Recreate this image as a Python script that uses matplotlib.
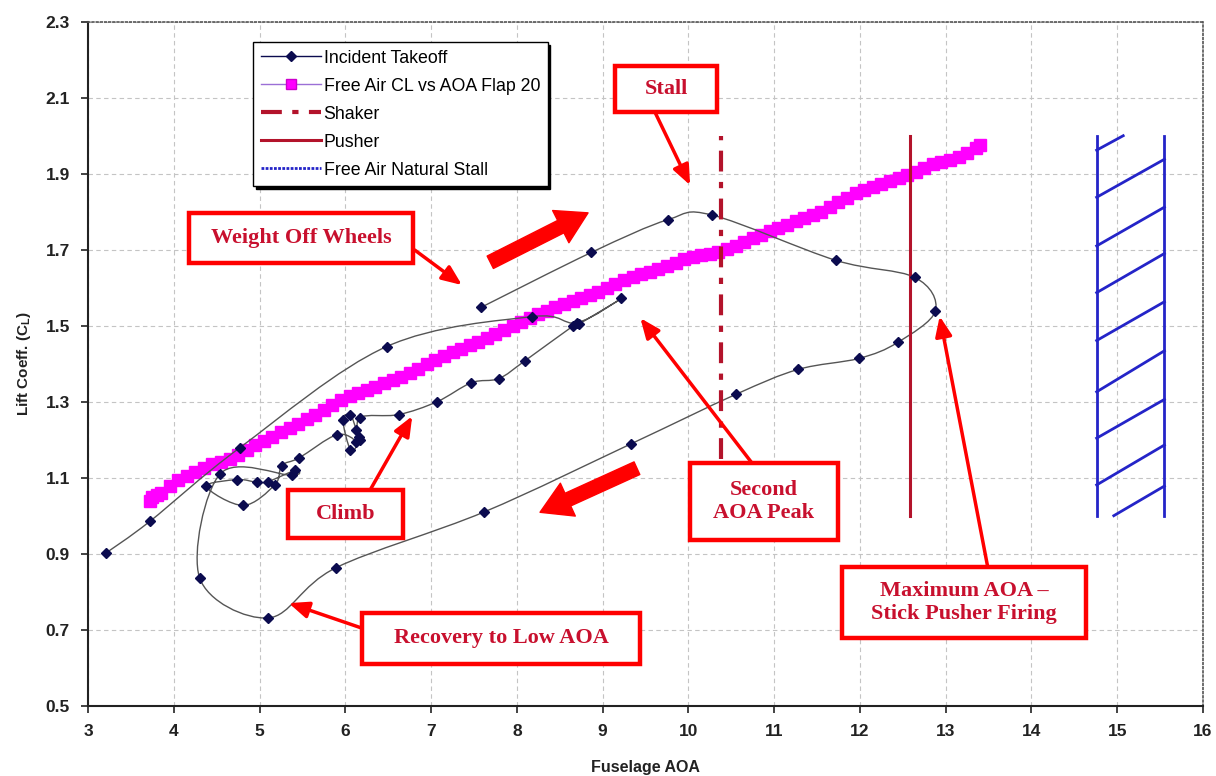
import numpy as np
import matplotlib
matplotlib.use("Agg")
import matplotlib.pyplot as plt
from matplotlib.path import Path
from matplotlib.patches import PathPatch, Rectangle
from matplotlib.lines import Line2D
import matplotlib.patheffects as pe

plt.rcParams['font.family'] = ['Liberation Sans', 'DejaVu Sans']

# Incident takeoff (CL vs fuselage AOA), in time order
takeoff_aoa = [7.58, 8.87, 9.76, 10.28, 11.72, 12.64, 12.88, 12.44, 11.99, 11.28,
               10.55, 9.33, 7.62, 5.89, 5.10, 4.30, 4.54, 5.38, 5.41, 5.10, 4.97,
               4.74, 4.38, 4.81, 5.18, 5.26, 5.46, 5.90, 6.13, 6.06, 5.97,
               6.06, 6.13, 6.16, 6.17, 6.17, 6.62, 7.07, 7.47, 7.79, 8.09,
               8.66, 8.72, 9.22, 8.70, 8.18, 6.48, 4.77, 3.72, 3.21]
takeoff_cl = [1.548, 1.693, 1.779, 1.791, 1.672, 1.627, 1.539, 1.456, 1.414, 1.385,
              1.319, 1.189, 1.010, 0.863, 0.731, 0.837, 1.110, 1.106, 1.119, 1.090, 1.088,
              1.095, 1.077, 1.027, 1.082, 1.132, 1.152, 1.213, 1.194, 1.172, 1.253,
              1.264, 1.225, 1.207, 1.198, 1.258, 1.266, 1.300, 1.350, 1.361, 1.407,
              1.500, 1.504, 1.572, 1.508, 1.524, 1.445, 1.179, 0.985, 0.902]

# Free air CL vs AOA, flap 20
free_aoa = [3.72, 3.75, 3.80, 3.85, 3.95, 4.05, 4.15, 4.25, 4.35, 4.45,
            4.55, 4.65, 4.75, 4.85, 4.95, 5.05, 5.15, 5.25, 5.35, 5.45,
            5.55, 5.65, 5.75, 5.85, 5.95, 6.05, 6.15, 6.25, 6.35, 6.45,
            6.55, 6.65, 6.75, 6.85, 6.95, 7.05, 7.15, 7.25, 7.35, 7.45,
            7.55, 7.65, 7.75, 7.85, 7.95, 8.05, 8.15, 8.25, 8.35, 8.45,
            8.55, 8.65, 8.75, 8.85, 8.95, 9.05, 9.15, 9.25, 9.35, 9.45,
            9.55, 9.65, 9.75, 9.85, 9.95, 10.05, 10.15, 10.25, 10.35, 10.45,
            10.55, 10.65, 10.75, 10.85, 10.95, 11.05, 11.15, 11.25, 11.35, 11.45,
            11.55, 11.65, 11.75, 11.85, 11.95, 12.05, 12.15, 12.25, 12.35, 12.45,
            12.55, 12.65, 12.75, 12.85, 12.95, 13.05, 13.15, 13.25, 13.35, 13.40]
free_cl = [1.040, 1.050, 1.055, 1.060, 1.078, 1.095, 1.105, 1.115, 1.125, 1.135,
           1.142, 1.150, 1.160, 1.172, 1.185, 1.196, 1.208, 1.220, 1.230, 1.242,
           1.255, 1.265, 1.278, 1.292, 1.305, 1.315, 1.322, 1.330, 1.340, 1.350,
           1.358, 1.366, 1.376, 1.387, 1.398, 1.410, 1.420, 1.430, 1.440, 1.450,
           1.458, 1.468, 1.478, 1.490, 1.500, 1.510, 1.520, 1.530, 1.538, 1.548,
           1.556, 1.565, 1.573, 1.582, 1.590, 1.600, 1.610, 1.620, 1.628, 1.636,
           1.642, 1.650, 1.658, 1.666, 1.675, 1.680, 1.686, 1.690, 1.695, 1.702,
           1.710, 1.720, 1.730, 1.740, 1.748, 1.756, 1.766, 1.775, 1.783, 1.792,
           1.800, 1.812, 1.825, 1.835, 1.848, 1.858, 1.866, 1.874, 1.882, 1.890,
           1.896, 1.905, 1.915, 1.925, 1.932, 1.935, 1.945, 1.955, 1.968, 1.975]

shaker_aoa = [10.38, 10.38]
shaker_cl = [1.15, 2.0]
pusher_aoa = [12.58, 12.58]
pusher_cl = [1.0, 2.0]

# Free air natural stall band (two edges + hatching)
stall_edge_aoa = [14.76, 15.55]
stall_edge_cl = [1.0, 2.0]
hatch_x0 = [14.76, 14.76, 14.76, 14.76, 14.76, 14.76, 14.76, 14.76, 14.96]
hatch_y0 = [1.962, 1.838, 1.710, 1.587, 1.461, 1.326, 1.204, 1.081, 1.000]
hatch_x1 = [15.07, 15.55, 15.55, 15.55, 15.55, 15.55, 15.55, 15.55, 15.55]
hatch_y1 = [2.000, 1.938, 1.812, 1.690, 1.563, 1.434, 1.306, 1.186, 1.078]

# callout boxes: text, box (x0, x1, y0, y1), arrow start, arrow tip
notes = ["Stall", "Weight Off Wheels", "Climb", "Second\nAOA Peak",
         "Maximum AOA \u2013\nStick Pusher Firing", "Recovery to Low AOA"]
note_boxes = [(9.144, 10.334, 2.062, 2.183), (4.178, 6.789, 1.665, 1.797),
              (5.332, 6.673, 0.941, 1.068), (10.019, 11.744, 0.936, 1.139),
              (11.791, 14.636, 0.678, 0.865), (6.195, 9.436, 0.610, 0.744)]
note_from = [(9.61, 2.062), (6.81, 1.699), (6.29, 1.068), (10.74, 1.139),
             (13.49, 0.865), (6.195, 0.704)]
note_to = [(10.02, 1.870), (7.36, 1.607), (6.78, 1.262), (9.44, 1.520),
           (12.93, 1.525), (5.34, 0.770)]

# big direction arrows (tail, tip)
dir_arrows = [((7.69, 1.667), (8.83, 1.797)), ((9.40, 1.125), (8.27, 1.009))]


def smooth_path(xs, ys):
    # excel style smoothed line through the points
    pts = np.column_stack([xs, ys])
    n = len(pts)
    verts = [pts[0]]
    codes = [Path.MOVETO]
    for i in range(n - 1):
        p0 = pts[i - 1] if i > 0 else pts[i]
        p1 = pts[i]
        p2 = pts[i + 1]
        p3 = pts[i + 2] if i + 2 < n else pts[i + 1]
        verts += [p1 + (p2 - p0) / 6.0, p2 - (p3 - p1) / 6.0, p2]
        codes += [Path.CURVE4] * 3
    return Path(verts, codes)


fig = plt.figure(figsize=(12.16, 7.76), dpi=100)
ax = fig.add_axes([0.0724, 0.0906, 0.9169, 0.8814])

navy = '#0b0b4f'
dark_red = '#b3132b'
blue = '#2424c8'

ax.add_patch(PathPatch(smooth_path(takeoff_aoa, takeoff_cl), fill=False,
                       edgecolor='#555555', lw=1.0, zorder=3))
ax.plot(takeoff_aoa, takeoff_cl, ls='none', marker='D', ms=5.5,
        mfc=navy, mec=navy, zorder=4)

ax.plot(free_aoa, free_cl, color='#9b6fd6', lw=1, marker='s', ms=9,
        mfc='#ff00ff', mec='#ff00ff', zorder=2)

ax.plot(shaker_aoa, shaker_cl, color=dark_red, lw=3, dashes=(5, 2.5, 1.5, 2.5), zorder=3)
ax.plot(pusher_aoa, pusher_cl, color=dark_red, lw=2.2, zorder=3)

for xe in stall_edge_aoa:
    ax.plot([xe, xe], stall_edge_cl, color=blue, lw=2, zorder=3)
for x0, y0, x1, y1 in zip(hatch_x0, hatch_y0, hatch_x1, hatch_y1):
    ax.plot([x0, x1], [y0, y1], color=blue, lw=2, zorder=3)

# callouts
for txt, (bx0, bx1, by0, by1), p_from, p_to in zip(notes, note_boxes, note_from, note_to):
    ax.annotate('', xy=p_to, xytext=p_from,
                arrowprops=dict(arrowstyle='-|>,head_length=1.2,head_width=0.5',
                                color='red', lw=2.5, shrinkA=0, shrinkB=0,
                                mutation_scale=10), zorder=5)
    rect = Rectangle((bx0, by0), bx1 - bx0, by1 - by0, facecolor='white',
                     edgecolor='red', lw=3.2, zorder=6)
    rect.set_path_effects([pe.SimplePatchShadow(offset=(1.5, -1.5),
                                                shadow_rgbFace='#990000', alpha=1),
                           pe.Normal()])
    ax.add_patch(rect)
    ax.text((bx0 + bx1) / 2, (by0 + by1) / 2, txt, ha='center', va='center',
            family=['Liberation Serif', 'DejaVu Serif'], weight='bold',
            fontsize=16, color='#c8102e', linespacing=1.22, zorder=7)

for tail, tip in dir_arrows:
    ax.annotate('', xy=tip, xytext=tail,
                arrowprops=dict(arrowstyle='simple,head_length=2.2,head_width=2.6,tail_width=1.0',
                                fc='red', ec='red', shrinkA=0, shrinkB=0,
                                mutation_scale=10), zorder=5)

ax.set_xlim(3, 16)
ax.set_ylim(0.5, 2.3)
ax.set_xticks(np.arange(3, 17, 1))
ax.set_yticks([0.5, 0.7, 0.9, 1.1, 1.3, 1.5, 1.7, 1.9, 2.1, 2.3])
ax.set_yticklabels(['0.5', '0.7', '0.9', '1.1', '1.3', '1.5', '1.7', '1.9', '2.1', '2.3'])
ax.tick_params(direction='out', length=5, width=1.2, pad=8, labelsize=12.5,
               colors='#222222')
for lab in ax.get_xticklabels() + ax.get_yticklabels():
    lab.set_fontweight('bold')
ax.grid(True, color='#c4c4c4', ls=(0, (4, 3)), lw=0.8, zorder=0)
ax.set_axisbelow(True)
for s in ['left', 'bottom']:
    ax.spines[s].set_linewidth(1.5)
    ax.spines[s].set_color('#222222')
for s in ['top', 'right']:
    ax.spines[s].set_linestyle((0, (1, 1.5)))
    ax.spines[s].set_color('#555555')
    ax.spines[s].set_linewidth(1.2)

ax.set_xlabel('Fuselage AOA', fontsize=11.5, weight='bold', labelpad=15, color='#222222')
ax.set_ylabel(r'Lift Coeff. (C$_\mathregular{L}$)', fontsize=11, weight='bold',
              labelpad=9, color='#222222')

handles = [
    Line2D([], [], color=navy, lw=1, marker='D', ms=5, mfc=navy, mec=navy),
    Line2D([], [], color='#9b6fd6', lw=1, marker='s', ms=7, mfc='#ff00ff', mec='#cc00cc'),
    Line2D([], [], color=dark_red, lw=3, dashes=(5, 2.5, 1.5, 2.5)),
    Line2D([], [], color=dark_red, lw=2.2),
    Line2D([], [], color=blue, lw=2, ls=(0, (1, 0.5))),
]
labels = ['Incident Takeoff', 'Free Air CL vs AOA Flap 20', 'Shaker', 'Pusher',
          'Free Air Natural Stall']
leg = ax.legend(handles, labels, loc='upper left', bbox_to_anchor=(0.148, 0.9703),
                borderaxespad=0, fontsize=12.8, handlelength=3.4, handletextpad=0.15,
                labelspacing=0.62, borderpad=0.42, fancybox=False, framealpha=1,
                edgecolor='black',
                shadow={'color': 'black', 'alpha': 1, 'ox': 2, 'oy': -2})
leg.get_frame().set_linewidth(1.0)
leg.set_zorder(8)

fig.savefig('out.png', dpi=100, facecolor='white')
